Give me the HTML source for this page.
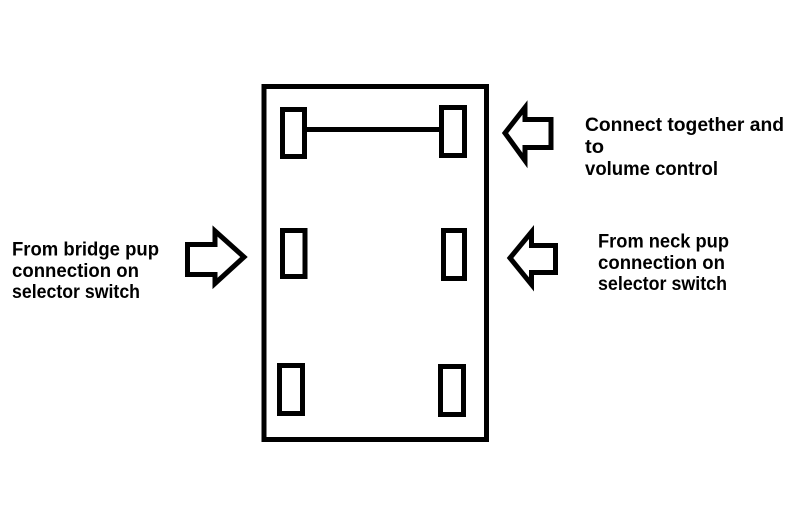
<!DOCTYPE html>
<html>
<head>
<meta charset="utf-8">
<style>
  html, body { margin: 0; padding: 0; background: #fff; }
  body { width: 800px; height: 512px; overflow: hidden; }
  svg { display: block; }
  text { font-family: "Liberation Sans", sans-serif; font-weight: bold; font-size: 19px; fill: #000; }
</style>
</head>
<body>
<svg width="800" height="512" viewBox="0 0 800 512" xmlns="http://www.w3.org/2000/svg">
  <rect x="0" y="0" width="800" height="512" fill="#fff"/>
  <g fill="none" stroke="#000" stroke-width="5" stroke-linejoin="miter">
    <!-- outer switch body -->
    <rect x="264" y="86.5" width="222.5" height="353"/>
    <!-- terminals -->
    <rect x="282.5" y="109.5" width="22" height="47"/>
    <rect x="441.5" y="107.5" width="23" height="48"/>
    <rect x="282.5" y="230.5" width="22.5" height="46"/>
    <rect x="443.5" y="230.5" width="21" height="48"/>
    <rect x="279.5" y="365.5" width="23" height="48"/>
    <rect x="440.5" y="366.5" width="23" height="48"/>
    <!-- connecting wire -->
    <line x1="306" y1="129.5" x2="441" y2="129.5"/>
    <!-- left arrow (pointing right) -->
    <path d="M187.5,244.5 L215,244.5 L215,231 L244,257 L215,283.5 L215,274.5 L187.5,274.5 Z"/>
    <!-- right middle arrow (pointing left) -->
    <path d="M510,258 L531.5,232 L531.5,245.5 L555.5,245.5 L555.5,272.5 L531.5,272.5 L531.5,284.5 Z"/>
    <!-- top right arrow (pointing left) -->
    <path d="M505,133 L525,107.5 L525,119.5 L551,119.5 L551,147.5 L525,147.5 L525,160.5 Z"/>
  </g>
  <!-- top right label -->
  <text x="585" y="131" textLength="199" lengthAdjust="spacingAndGlyphs">Connect together and</text>
  <text x="585" y="153" textLength="19" lengthAdjust="spacingAndGlyphs">to</text>
  <text x="585" y="175" textLength="133" lengthAdjust="spacingAndGlyphs">volume control</text>
  <!-- left label -->
  <text x="12" y="255.5" textLength="147" lengthAdjust="spacingAndGlyphs">From bridge pup</text>
  <text x="12" y="277" textLength="127" lengthAdjust="spacingAndGlyphs">connection on</text>
  <text x="12" y="298" textLength="128" lengthAdjust="spacingAndGlyphs">selector switch</text>
  <!-- right middle label -->
  <text x="598" y="247.5" textLength="131" lengthAdjust="spacingAndGlyphs">From neck pup</text>
  <text x="598" y="269" textLength="127" lengthAdjust="spacingAndGlyphs">connection on</text>
  <text x="598" y="290" textLength="129" lengthAdjust="spacingAndGlyphs">selector switch</text>
</svg>
</body>
</html>
